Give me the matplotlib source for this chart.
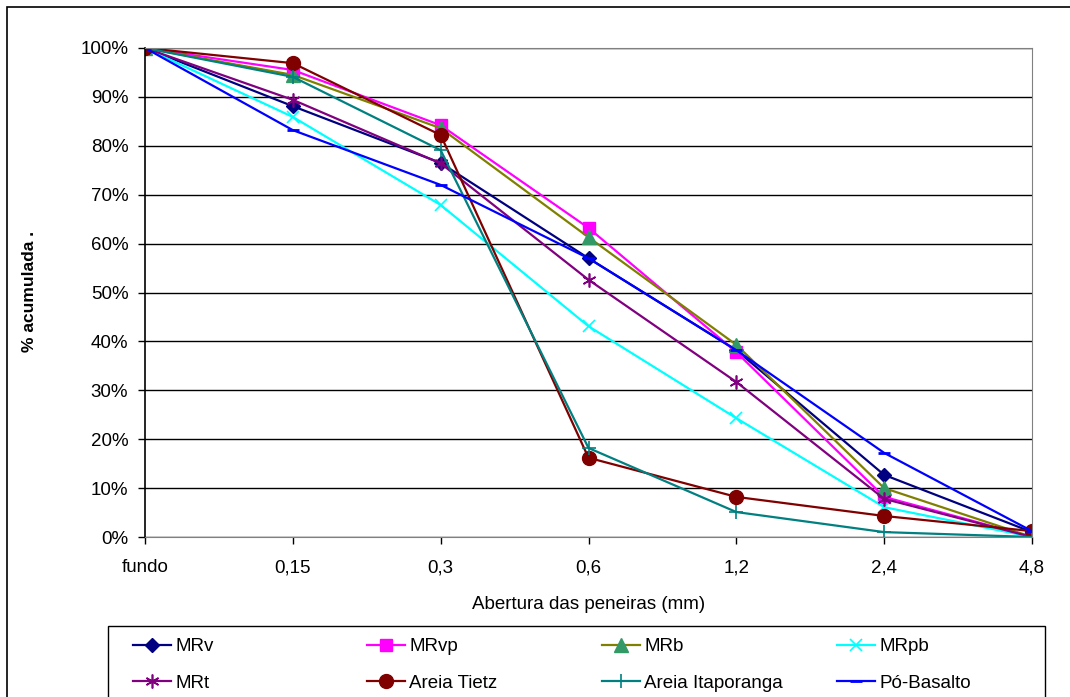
import matplotlib.pyplot as plt
import matplotlib.ticker as mtick
from matplotlib.patches import Rectangle

plt.rcParams['font.family'] = ['Liberation Sans', 'DejaVu Sans']

# peneiras (categorias do eixo x)
peneiras = ['fundo', '0,15', '0,3', '0,6', '1,2', '2,4', '4,8']

# % acumulada por material
mrv = [100, 88.1, 76.5, 57.0, 38.2, 12.7, 1.0]
mrvp = [100, 95.5, 84.2, 63.2, 37.8, 8.2, 0.0]
mrb = [100, 94.5, 83.6, 61.3, 39.3, 10.0, 0.0]
mrpb = [100, 85.9, 67.9, 43.1, 24.3, 6.1, 0.0]
mrt = [100, 89.4, 76.4, 52.6, 31.7, 7.8, 0.0]
tietz = [100, 96.9, 82.2, 16.2, 8.2, 4.3, 1.2]
itaporanga = [100, 94.1, 79.1, 18.2, 5.1, 1.0, 0.0]
basalto = [100, 83.2, 72.0, 57.0, 38.2, 17.2, 1.2]

fs = 13.5

fig = plt.figure(figsize=(10.7, 6.97), dpi=100)
ax = fig.add_axes([145/1070, 1-537/697, (1032-145)/1070, (537-48)/697])

x = range(len(peneiras))
lw = 1.6
h_mrv, = ax.plot(x, [v/100 for v in mrv], color='#000080', lw=lw, marker='D', ms=7.5, label='MRv')
h_mrvp, = ax.plot(x, [v/100 for v in mrvp], color='#FF00FF', lw=lw, marker='s', ms=8.5, label='MRvp')
h_mrb, = ax.plot(x, [v/100 for v in mrb], color='#808000', lw=lw, marker='^', ms=9.5,
                 mfc='#339966', mec='#339966', label='MRb')
h_mrpb, = ax.plot(x, [v/100 for v in mrpb], color='#00FFFF', lw=lw, marker='x', ms=9, mew=1.2, label='MRpb')
h_mrt, = ax.plot(x, [v/100 for v in mrt], color='#800080', lw=lw, marker=(6, 2, 0), ms=10, mew=1.2, label='MRt')
h_tietz, = ax.plot(x, [v/100 for v in tietz], color='#800000', lw=lw, marker='o', ms=10, label='Areia Tietz')
h_itap, = ax.plot(x, [v/100 for v in itaporanga], color='#008080', lw=lw, marker='+', ms=10, mew=1.2,
                  label='Areia Itaporanga')
h_bas, = ax.plot(x, [v/100 for v in basalto], color='#0000FF', lw=lw, marker='_', ms=8, mew=2, label='Pó-Basalto')

ax.set_xlim(0, len(peneiras) - 1)
ax.set_ylim(0, 1)
ax.set_xticks(list(x))
ax.set_xticklabels(peneiras)
ax.set_yticks([i/10 for i in range(11)])
ax.yaxis.set_major_formatter(mtick.PercentFormatter(1.0, decimals=0))
ax.tick_params(axis='both', labelsize=fs, direction='out', length=5, width=1, color='black')
ax.tick_params(axis='x', pad=11)
ax.tick_params(axis='y', pad=7)
ax.grid(axis='y', color='black', lw=1)
ax.set_axisbelow(True)
for s in ['top', 'right']:
    ax.spines[s].set_color('#808080')
ax.spines['left'].set_color('black')
ax.spines['bottom'].set_color('#808080')
ax.spines['left'].set_linewidth(1.2)

ax.set_xlabel('Abertura das peneiras (mm)', fontsize=fs, labelpad=14)
fig.text(30/1070, 1-291/697, '% acumulada .', rotation=90, ha='center', va='center',
         fontsize=12.5, fontweight='bold')

# borda da figura
fig.patches.append(Rectangle((7/1070, -0.1), 1.2, 1.1 - 7/697, transform=fig.transFigure,
                             fill=False, ec='black', lw=1.2))
# caixa da legenda
fig.patches.append(Rectangle((108/1070, -0.1), (1045-108)/1070, 0.1 + 1-626/697, transform=fig.transFigure,
                             fill=False, ec='black', lw=1.0))

# legenda em 4 colunas fixas, como no Excel
colunas = [(h_mrv, h_mrt), (h_mrvp, h_tietz), (h_mrb, h_itap), (h_mrpb, h_bas)]
col_x = [133, 367, 602, 837]
for hs, cx in zip(colunas, col_x):
    leg = fig.legend(handles=list(hs), labels=[h.get_label() for h in hs], loc='upper left',
                     bbox_to_anchor=(cx/1070, 1-638/697), fontsize=fs, frameon=False,
                     handlelength=2.0, handletextpad=0.25, borderpad=0, borderaxespad=0,
                     labelspacing=1.05)

fig.savefig('out.png', dpi=100)
